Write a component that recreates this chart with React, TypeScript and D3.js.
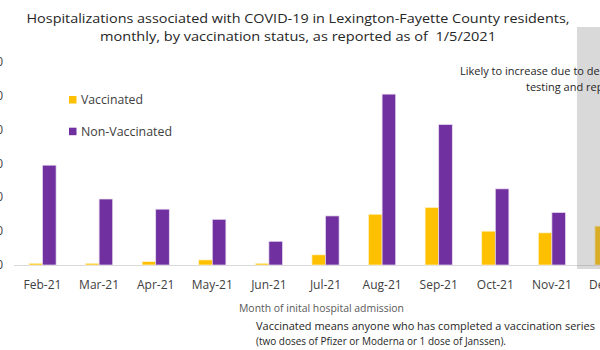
import React from "react";
import * as d3 from "d3";

const months = ["Feb-21","Mar-21","Apr-21","May-21","Jun-21","Jul-21","Aug-21","Sep-21","Oct-21","Nov-21","Dec-21"];
const vaccinated = [1, 1, 2, 3, 1, 6, 30, 34, 20, 19, 23];
const nonVaccinated = [59, 39, 33, 27, 14, 29, 101, 83, 45, 31, 40];
const yTicks = [0, 20, 40, 60, 80, 100, 120];
const seriesNames = ["Vaccinated", "Non-Vaccinated"];
const seriesColors = ["#FFC000", "#7030A0"];

const W = 600, H = 350;
const FONT = "'Open Sans', sans-serif";

export default function App() {
  const x0 = d3.scaleBand<string>().domain(months).range([14.2, 636.8]).paddingInner(0.52).paddingOuter(0.26);
  const x1 = d3.scaleBand<string>().domain(seriesNames).range([0, x0.bandwidth()]);
  const y = d3.scaleLinear().domain([0, 120]).range([265, 62]);
  const data = [vaccinated, nonVaccinated];

  return (
    <svg width={W} height={H} style={{ position: "absolute", left: 0, top: 0, background: "#fff" }}>
      {/* title */}
      <text x={298} y={23} textAnchor="middle" fontFamily={FONT} fontSize={13.5} fill="#262626"
        textLength={543} lengthAdjust="spacingAndGlyphs">
        Hospitalizations associated with COVID-19 in Lexington-Fayette County residents,
      </text>
      <text x={298} y={40.5} textAnchor="middle" fontFamily={FONT} fontSize={13.5} fill="#262626"
        textLength={396} lengthAdjust="spacingAndGlyphs">
        {"monthly, by vaccination status, as reported as of \u00a01/5/2021"}
      </text>

      {/* y tick labels (mostly cut off at left edge) */}
      {yTicks.map((t) => (
        <text key={t} x={3} y={y(t) + 4} textAnchor="end" fontFamily={FONT} fontSize={12} fill="#404040">{t}</text>
      ))}

      {/* baseline */}
      <line x1={14} x2={W} y1={265.5} y2={265.5} stroke="#d9d9d9" strokeWidth={1} />

      {/* bars */}
      {months.map((m, i) => (
        <g key={m} transform={`translate(${x0(m)},0)`}>
          {seriesNames.map((s, j) => (
            <rect key={s} x={x1(s)} y={y(data[j][i])} width={x1.bandwidth()} height={y(0) - y(data[j][i])}
              fill={seriesColors[j]} stroke={j === 1 ? "#e6dcf0" : "#fff3cc"} strokeWidth={0.7} />
          ))}
        </g>
      ))}

      {/* category labels */}
      {months.map((m) => (
        <text key={m} x={(x0(m) as number) + x0.bandwidth() / 2} y={288.5} textAnchor="middle"
          fontFamily={FONT} fontSize={12} fill="#404040">{m}</text>
      ))}

      {/* grey overlay for incomplete month */}
      <rect x={577} y={27} width={40} height={242} fill="#808080" opacity={0.3} />

      {/* annotation */}
      <text x={460} y={75} fontFamily={FONT} fontSize={11} fill="#262626">Likely to increase due to delays in</text>
      <text x={526} y={91} fontFamily={FONT} fontSize={11} fill="#262626">testing and reporting</text>

      {/* legend */}
      {seriesNames.map((s, j) => (
        <g key={s}>
          <rect x={69} y={96 + j * 31.7} width={7.5} height={7.5} fill={seriesColors[j]} />
          <text x={81} y={104 + j * 31.7} fontFamily={FONT} fontSize={12.5} fill="#404040"
            textLength={j === 0 ? 62 : 91} lengthAdjust="spacingAndGlyphs">{s}</text>
        </g>
      ))}

      {/* axis title */}
      <text x={239} y={311.5} fontFamily={FONT} fontSize={10} fill="#595959"
        textLength={165} lengthAdjust="spacingAndGlyphs">Month of inital hospital admission</text>

      {/* note */}
      <text x={256} y={330} fontFamily={FONT} fontSize={10.5} fill="#262626"
        textLength={339} lengthAdjust="spacingAndGlyphs">Vaccinated means anyone who has completed a vaccination series</text>
      <text x={256} y={345} fontFamily={FONT} fontSize={10.5} fill="#262626"
        textLength={250} lengthAdjust="spacingAndGlyphs">(two doses of Pfizer or Moderna or 1 dose of Janssen).</text>
    </svg>
  );
}
